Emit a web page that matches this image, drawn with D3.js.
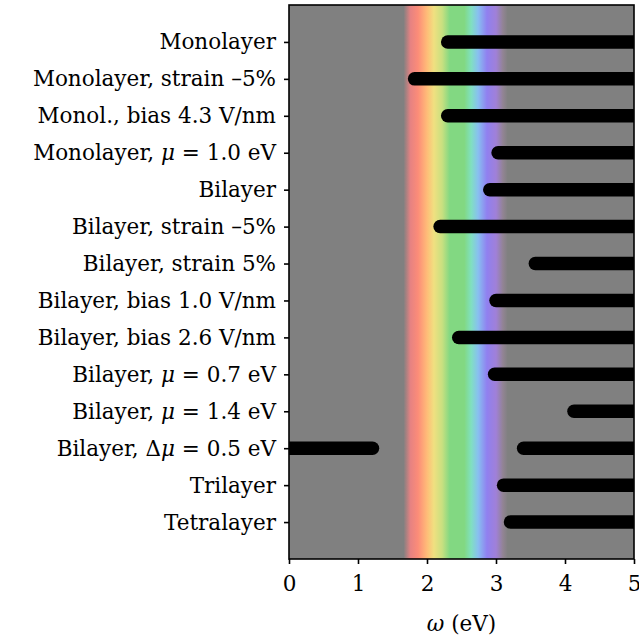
<!DOCTYPE html>
<html>
<head>
<meta charset="utf-8">
<script src="https://cdn.jsdelivr.net/npm/d3@7"></script>
<style>
  body { margin: 0; background: #fff; }
</style>
</head>
<body>
<svg id="chart" width="639" height="641"></svg>
<script>
// rows, top to bottom
var labels = [
  'Monolayer',
  'Monolayer, strain –5%',
  'Monol., bias 4.3 V/nm',
  'Monolayer, μ = 1.0 eV',
  'Bilayer',
  'Bilayer, strain –5%',
  'Bilayer, strain 5%',
  'Bilayer, bias 1.0 V/nm',
  'Bilayer, bias 2.6 V/nm',
  'Bilayer, μ = 0.7 eV',
  'Bilayer, μ = 1.4 eV',
  'Bilayer, Δμ = 0.5 eV',
  'Trilayer',
  'Tetralayer'
]
// absorbing band(s) per row: [from, to] in eV
var bands = [
  [[2.30, 6]],
  [[1.82, 6]],
  [[2.30, 6]],
  [[3.03, 6]],
  [[2.91, 6]],
  [[2.19, 6]],
  [[3.57, 6]],
  [[3.00, 6]],
  [[2.46, 6]],
  [[2.98, 6]],
  [[4.13, 6]],
  [[-1, 1.21], [3.40, 6]],
  [[3.11, 6]],
  [[3.21, 6]]
]
var xTicks = [0, 1, 2, 3, 4, 5]
// visible spectrum backdrop (eV, colour)
var spectrumEv = [1.66, 1.76, 1.87, 2.00, 2.10, 2.22, 2.33, 2.54, 2.64, 2.74, 2.87, 3.00, 3.10, 3.17]
var spectrumColors = ['#808080', '#e68282', '#fc8c78', '#ffbc78', '#f0e080', '#c8e080', '#82d882',
  '#82d882', '#80e0c0', '#88c0f0', '#9080f0', '#a080d8', '#928494', '#808080']

var FONT = '"DejaVu Serif", "Liberation Serif", serif'
  , FSIZE = 21.5

var svg = d3.select('#chart')
var margin = { left: 289, right: 5, top: 5, bottom: 82 }
var width = 639 - margin.left - margin.right
  , height = 641 - margin.top - margin.bottom

var x = d3.scaleLinear().domain([0, 5]).range([0, width])
var y = d3.scaleLinear().domain([-1, labels.length]).range([0, height])

var defs = svg.append('defs')
defs.append('clipPath').attr('id', 'plotclip')
  .append('rect').attr('width', width).attr('height', height)

var grad = defs.append('linearGradient').attr('id', 'spectrum')
  .attr('gradientUnits', 'userSpaceOnUse')
  .attr('x1', x(spectrumEv[0])).attr('x2', x(spectrumEv[spectrumEv.length - 1]))
  .attr('y1', 0).attr('y2', 0)
var e0 = spectrumEv[0], e1 = spectrumEv[spectrumEv.length - 1]
grad.selectAll('stop').data(spectrumEv).enter().append('stop')
  .attr('offset', function(e) { return (e - e0) / (e1 - e0) })
  .attr('stop-color', function(e, i) { return spectrumColors[i] })

var g = svg.append('g').attr('transform', 'translate(' + margin.left + ',' + margin.top + ')')

g.append('rect').attr('width', width).attr('height', height).attr('fill', '#808080')
g.append('rect')
  .attr('x', x(e0)).attr('width', x(e1) - x(e0))
  .attr('height', height).attr('fill', 'url(#spectrum)')

var segs = []
bands.forEach(function(row, i) {
  row.forEach(function(b) { segs.push({ row: i, from: b[0], to: b[1] }) })
})

g.append('g').attr('clip-path', 'url(#plotclip)')
  .selectAll('line.band').data(segs)
  .enter().append('line').attr('class', 'band')
  .attr('x1', function(d) { return x(d.from) })
  .attr('x2', function(d) { return x(d.to) })
  .attr('y1', function(d) { return y(d.row) })
  .attr('y2', function(d) { return y(d.row) })
  .attr('stroke', '#000')
  .attr('stroke-width', 13.5)
  .attr('stroke-linecap', 'round')

g.append('rect').attr('width', width).attr('height', height)
  .attr('fill', 'none').attr('stroke', '#000').attr('stroke-width', 1.6)

// x axis
var xAxis = g.append('g').attr('transform', 'translate(0,' + height + ')')
  .call(d3.axisBottom(x).tickValues(xTicks).tickFormat(d3.format('d')).tickSize(5).tickPadding(12))
xAxis.select('.domain').remove()
xAxis.selectAll('line').attr('stroke-width', 1.6)
xAxis.attr('font-family', FONT).attr('font-size', FSIZE)

// y axis
var yAxis = g.append('g')
  .call(d3.axisLeft(y).tickValues(d3.range(labels.length)).tickFormat(function() { return '' }).tickSize(5))
yAxis.select('.domain').remove()
yAxis.selectAll('line').attr('stroke-width', 1.6)

// tick labels with italic mu
var italic = { 'μ': true, 'ω': true }
var ylab = g.append('g').attr('font-family', FONT).attr('font-size', FSIZE)
  .selectAll('text').data(labels).enter().append('text')
  .attr('x', -13).attr('y', function(d, i) { return y(i) })
  .attr('dy', '0.35em').attr('text-anchor', 'end')
ylab.each(function(d) {
  var t = d3.select(this)
  d.split(/([μω])/).forEach(function(part) {
    if (!part) return
    t.append('tspan').text(part).attr('font-style', italic[part] ? 'italic' : null)
  })
})

var xl = svg.append('text')
  .attr('font-family', FONT).attr('font-size', FSIZE)
  .attr('x', margin.left + width / 2).attr('y', 631)
  .attr('text-anchor', 'middle')
xl.append('tspan').attr('font-style', 'italic').text('ω')
xl.append('tspan').text(' (eV)')
</script>
</body>
</html>
